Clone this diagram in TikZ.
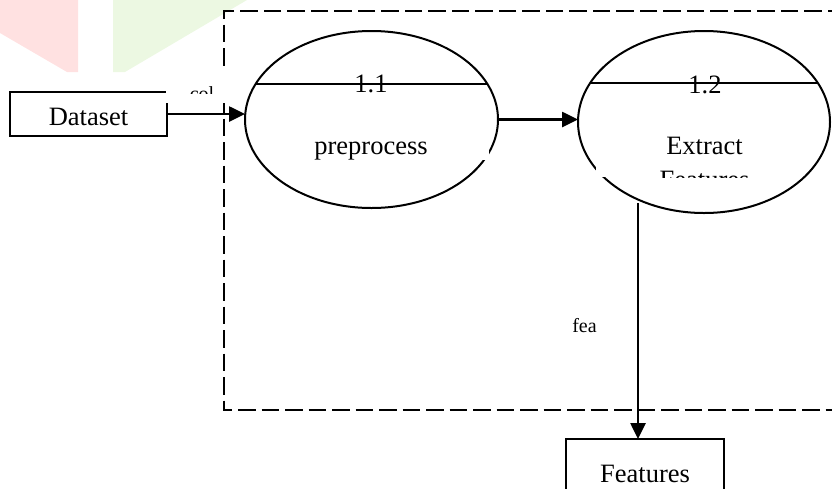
\documentclass[tikz,border=0pt]{standalone}
\usepackage{fontspec}
\setmainfont{Liberation Serif}
\usetikzlibrary{shapes.geometric,arrows.meta}
\definecolor{wmred}{HTML}{FFE1E1}
\definecolor{wmgreen}{HTML}{ECF8E2}
\begin{document}
\begin{tikzpicture}[x=1pt,y=-1pt,
  big/.style={font=\fontsize{26.5pt}{31pt}\selectfont, inner sep=0pt},
  small/.style={font=\fontsize{20pt}{24pt}\selectfont, inner sep=0pt},
  box/.style={draw, line width=2pt, inner sep=0pt, outer sep=0pt, text depth=0pt},
  proc/.style={ellipse, draw, line width=2pt, inner sep=0pt, outer sep=0pt},
  divider/.style={line width=2pt},
  frame/.style={line width=2.2pt, dash pattern=on 17.5pt off 6pt},
  flow/.style={line width=2.6pt, -{Triangle[length=16pt,width=15pt]}},
  cover/.style={fill=white}
]
\useasboundingbox (0,0) rectangle (832,488);

% faint logo in the corner
\fill[wmred] (0,0) -- (78,0) -- (78,72) -- (67,72) -- (0,33) -- cycle;
\fill[wmgreen] (113,0) -- (247,0) -- (125,72) -- (113,72) -- cycle;

% process bubbles with their number bars
\node[proc, minimum width=253pt, minimum height=177pt] (p1) at (371.5,119.5) {};
\node[proc, minimum width=252pt, minimum height=182pt] (p2) at (704,122) {};
\draw[divider] (p1.163) -- (p1.17);
\draw[divider] (p2.161) -- (p2.19);

% text areas inside the bubbles
\fill[cover] (300,130) rectangle (489,160);
\fill[cover] (596,130) rectangle (800,177);

\node[big, anchor=base] (n11) at (371,92) {1.1};
\node[big, anchor=base] (pre) at (371,154) {preprocess};
\node[big, anchor=base] (n12) at (705,93) {1.2};
\node[big, anchor=base] (ext) at (704.5,154) {Extract};
\begin{scope}
  \clip (596,130) rectangle (800,177);
  \node[big, anchor=base] (feat) at (704.5,188) {Features};
\end{scope}

% external entities
\node[box, big, minimum width=157pt, minimum height=44pt, text height=22pt] (ds) at (88.5,114) {Dataset};
\node[box, big, minimum width=158pt, minimum height=60pt, text height=26pt] (fb) at (645,469) {Features};

% system boundary
\draw[frame] (845,11) -- (224,11) -- (224,410) -- (845,410);

% flow labels
\fill[cover] (166,69) rectangle (232,103);
\begin{scope}
  \clip (186,69) rectangle (232,93.5);
  \node[small, anchor=base] (col) at (202,100) {col};
\end{scope}
\node[small, anchor=base] (fea) at (584.5,332) {fea};

% data flows
\draw[flow] (ds.east) -- (ds.east -| p1.west);
\draw[flow] (p1.east) -- (p1.east -| p2.west);
\coordinate (fo) at (638,203);
\draw[flow] (fo) -- (fo |- fb.north);
\end{tikzpicture}
\end{document}
